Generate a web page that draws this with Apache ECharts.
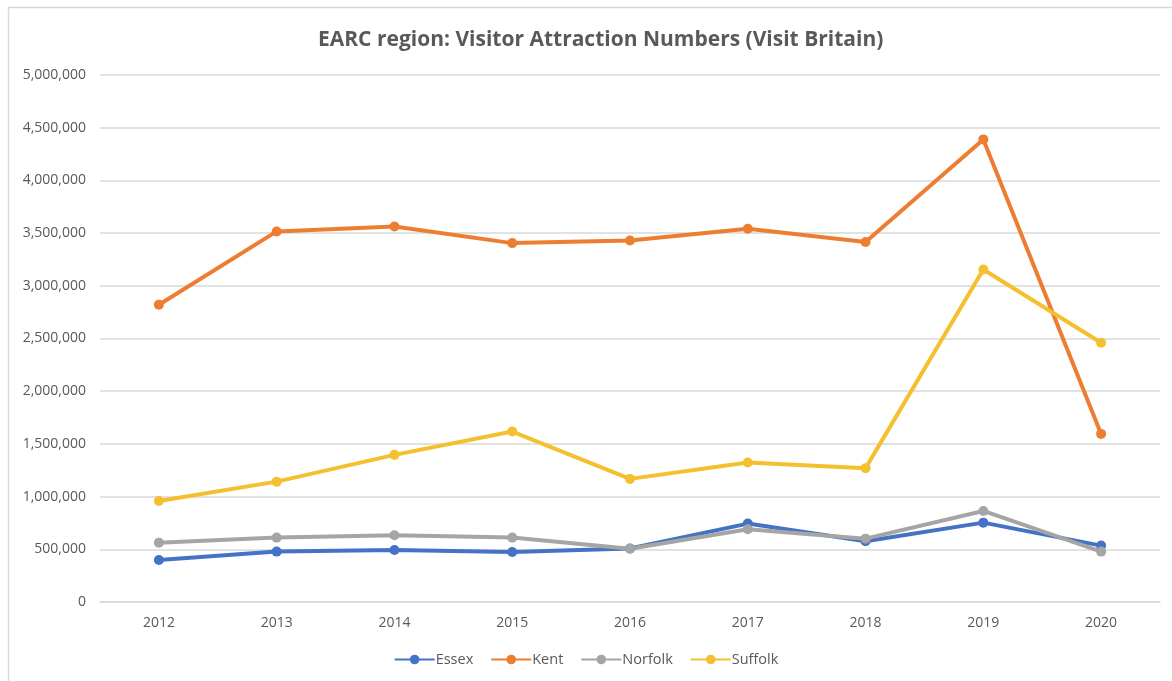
<!DOCTYPE html>
<html>
<head>
<meta charset="utf-8">
<title>EARC region: Visitor Attraction Numbers</title>
<script src="https://cdn.jsdelivr.net/npm/echarts@6/dist/echarts.min.js"></script>
<style>
  html, body { margin: 0; padding: 0; background: #ffffff; }
  #chart { width: 1172px; height: 681px; }
</style>
</head>
<body>
<div id="chart"></div>
<script>
// Annual visitor attraction numbers by county
const years = ['2012', '2013', '2014', '2015', '2016', '2017', '2018', '2019', '2020'];
const essex   = [398000, 478000, 494000, 475000, 508000, 744000, 576000, 753000, 535000];
const kent    = [2820000, 3516000, 3563000, 3405000, 3430000, 3541000, 3415000, 4389000, 1595000];
const norfolk = [563000, 611000, 633000, 611000, 505000, 690000, 601000, 864000, 478000];
const suffolk = [959000, 1142000, 1396000, 1617000, 1168000, 1323000, 1270000, 3155000, 2459000];

const seriesNames = ['Essex', 'Kent', 'Norfolk', 'Suffolk'];
const seriesData = [essex, kent, norfolk, suffolk];
const palette = ['#4472C4', '#ED7D31', '#A5A5A5', '#F4C030'];

const textColor = '#595959';
const fontFam = "'Open Sans', sans-serif";

const chart = echarts.init(document.getElementById('chart'), null, { renderer: 'canvas' });

chart.setOption({
  backgroundColor: '#ffffff',
  animation: false,
  color: palette,
  graphic: [{
    type: 'rect',
    shape: { x: 8.5, y: 7.5, width: 1200, height: 700 },
    style: { fill: 'none', stroke: '#d9d9d9', lineWidth: 1.5 },
    silent: true,
    z: -10
  }],
  title: {
    text: 'EARC region: Visitor Attraction Numbers (Visit Britain)',
    left: 313,
    top: 25,
    textStyle: { color: textColor, fontSize: 21, fontWeight: 'bold', fontFamily: fontFam }
  },
  legend: {
    data: seriesNames,
    bottom: 9,
    left: 'center',
    itemWidth: 40,
    itemHeight: 12,
    itemGap: 17,
    textStyle: { color: textColor, fontSize: 14.5, fontFamily: fontFam, padding: [0, 0, 0, -4] }
  },
  grid: { left: 100, right: 12, top: 75, bottom: 79, containLabel: false },
  xAxis: {
    type: 'category',
    data: years,
    boundaryGap: true,
    axisLine: { show: true, lineStyle: { color: '#d9d9d9', width: 1.5 } },
    axisTick: { show: false },
    axisLabel: { color: textColor, fontSize: 14, fontFamily: fontFam, margin: 14 }
  },
  yAxis: {
    type: 'value',
    min: 0,
    max: 5000000,
    interval: 500000,
    axisLine: { show: false },
    axisTick: { show: false },
    splitLine: { lineStyle: { color: '#d9d9d9', width: 1.5 } },
    axisLabel: {
      color: textColor, fontSize: 14, fontFamily: fontFam, margin: 14,
      formatter: v => v.toLocaleString('en-GB')
    }
  },
  series: seriesNames.map((name, i) => ({
    name: name,
    type: 'line',
    data: seriesData[i],
    symbol: 'circle',
    symbolSize: 10,
    lineStyle: { width: 4, color: palette[i] },
    itemStyle: { color: palette[i] }
  }))
});
</script>
</body>
</html>
